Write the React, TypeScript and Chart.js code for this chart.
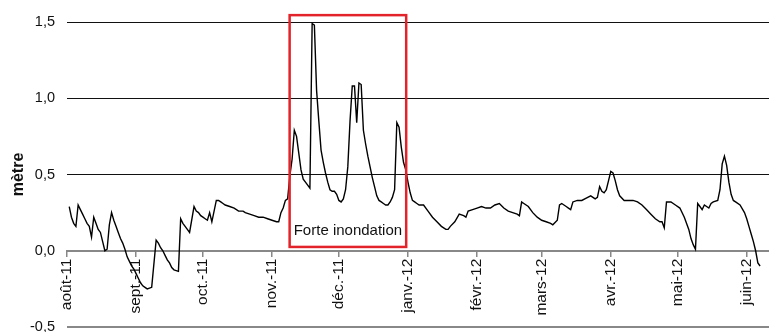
import React, { useEffect, useRef } from "react";
import { Chart, registerables } from "chart.js";

Chart.register(...registerables);

// Day offsets from 1 Aug 2011
const days: number[] = [
  1, 2, 3, 4, 5, 6, 7, 8, 9, 10, 11, 12, 13, 14, 15, 16, 17, 18, 19, 20,
  21, 22, 23, 24, 25, 26, 27, 28, 29, 30, 31, 32, 33, 34, 35, 36, 37, 38, 40,
  41, 42, 43, 44, 45, 46, 47, 48, 49, 50, 51, 52, 53, 54, 55, 57, 58, 59, 60,
  61, 62, 63, 64, 65, 67, 68, 69, 70, 71, 73, 75, 77, 79, 80, 82, 84, 86, 88,
  90, 92, 94, 95, 96, 97, 98, 99, 100, 101, 102, 103, 104, 105, 106, 107, 108,
  109, 110, 111, 112, 113, 114, 115, 116, 117, 118, 119, 120, 121, 122, 123,
  124, 125, 126, 127, 128, 129, 130, 131, 132, 133, 134, 135, 136, 137, 138,
  139, 140, 141, 142, 143, 144, 145, 146, 147, 148, 149, 150, 151, 152, 153,
  154, 155, 156, 157, 158, 160, 162, 164, 166, 168, 170, 171, 172, 174, 176,
  178, 179, 180, 182, 184, 186, 188, 190, 192, 194, 196, 198, 200, 202, 203,
  204, 205, 207, 209, 211, 213, 215, 217, 218, 220, 221, 222, 223, 224, 225,
  226, 227, 229, 231, 233, 235, 237, 238, 239, 240, 241, 242, 243, 244, 245,
  246, 247, 248, 250, 252, 254, 256, 258, 260, 262, 264, 266, 267, 268, 269,
  271, 273, 275, 277, 279, 280, 281, 282, 283, 284, 285, 286, 288, 289, 290,
  292, 293, 294, 295, 296, 297, 298, 299, 300, 302, 304, 305, 306, 307, 308,
  309, 310, 311,
];

const levels: number[] = [
  0.29, 0.22, 0.18, 0.16, 0.3, 0.27, 0.24, 0.21, 0.18, 0.16, 0.09, 0.22, 0.18,
  0.14, 0.12, 0.06, 0.0, 0.01, 0.17, 0.25,
  0.2, 0.16, 0.12, 0.08, 0.05, 0.01, -0.04, -0.07, -0.1, -0.12, -0.15, -0.18,
  -0.21, -0.23, -0.24, -0.25, -0.245, -0.24, 0.07,
  0.05, 0.02, 0.0, -0.03, -0.06, -0.08, -0.11, -0.125, -0.13, -0.135, 0.21,
  0.18, 0.16, 0.14, 0.12, 0.29, 0.26, 0.25, 0.23,
  0.22, 0.21, 0.2, 0.25, 0.19, 0.33, 0.33, 0.32, 0.31, 0.3, 0.29, 0.28, 0.26,
  0.26, 0.25, 0.24, 0.23, 0.22, 0.22,
  0.21, 0.2, 0.19, 0.19, 0.25, 0.28, 0.33, 0.34, 0.49, 0.6, 0.79, 0.75, 0.64,
  0.53, 0.47, 0.45, 0.43,
  0.41, 1.49, 1.48, 1.05, 0.85, 0.66, 0.58, 0.51, 0.45, 0.4, 0.39, 0.39, 0.37,
  0.33, 0.32,
  0.34, 0.4, 0.55, 0.85, 1.08, 1.08, 0.84, 1.1, 1.09, 0.79, 0.7, 0.62, 0.55,
  0.48, 0.42,
  0.36, 0.33, 0.32, 0.31, 0.3, 0.3, 0.32, 0.35, 0.4, 0.84, 0.81, 0.68, 0.58,
  0.53, 0.45,
  0.38, 0.33, 0.32, 0.31, 0.3, 0.3, 0.26, 0.22, 0.19, 0.16, 0.14, 0.14, 0.16,
  0.19, 0.24,
  0.23, 0.22, 0.26, 0.27, 0.28, 0.29, 0.28, 0.28, 0.3, 0.31, 0.28, 0.26, 0.25,
  0.24, 0.23,
  0.32, 0.31, 0.29, 0.25, 0.22, 0.2, 0.19, 0.18, 0.17, 0.2, 0.3, 0.31, 0.3,
  0.29, 0.28,
  0.27, 0.32, 0.33, 0.33, 0.345, 0.36, 0.34, 0.35, 0.42, 0.39, 0.38, 0.4, 0.46,
  0.52, 0.51,
  0.46, 0.4, 0.36, 0.33, 0.33, 0.33, 0.32, 0.3, 0.27, 0.24, 0.21, 0.19, 0.19,
  0.15, 0.32,
  0.32, 0.3, 0.28, 0.22, 0.14, 0.08, 0.04, 0.01, 0.31, 0.29, 0.27, 0.3, 0.28,
  0.31, 0.32,
  0.33, 0.4, 0.57, 0.62, 0.56, 0.45, 0.37, 0.33, 0.32, 0.3, 0.25, 0.21, 0.16,
  0.11, 0.06,
  0.0, -0.08, -0.1,
];

// Month starts (day offsets from 1 Aug 2011) and their labels
const monthStarts: number[] = [0, 31, 61, 92, 122, 153, 184, 213, 244, 274, 305];
const monthLabels: string[] = [
  "août-11", "sept.-11", "oct.-11", "nov.-11", "déc.-11", "janv.-12",
  "févr.-12", "mars-12", "avr.-12", "mai-12", "juin-12",
];

const yTicks: number[] = [-0.5, 0, 0.5, 1.0, 1.5];

// Highlight box (data units) and its caption
const floodBox = { x0: 99.9, x1: 152.2, y0: 0.025, y1: 1.545 };
const floodLabel = "Forte inondation";
const floodLabelY = 0.13;

const FONT = "'Liberation Sans', Arial, sans-serif";

const floodPlugin = {
  id: "floodBox",
  afterDatasetsDraw(chart: any) {
    const { ctx, scales } = chart;
    const x = scales.x;
    const y = scales.y;
    const l = x.getPixelForValue(floodBox.x0);
    const r = x.getPixelForValue(floodBox.x1);
    const t = y.getPixelForValue(floodBox.y1);
    const b = y.getPixelForValue(floodBox.y0);
    ctx.save();
    ctx.strokeStyle = "#e3232a";
    ctx.lineWidth = 2.5;
    ctx.strokeRect(l, t, r - l, b - t);
    ctx.fillStyle = "#111";
    ctx.font = `15px ${FONT}`;
    ctx.textAlign = "center";
    ctx.textBaseline = "middle";
    ctx.fillText(floodLabel, (l + r) / 2, y.getPixelForValue(floodLabelY));
    ctx.restore();
  },
};

export default function App() {
  const ref = useRef<HTMLCanvasElement | null>(null);

  useEffect(() => {
    if (!ref.current) return;
    const chart = new Chart(ref.current, {
      type: "line",
      data: {
        datasets: [
          {
            data: days.map((d, i) => ({ x: d, y: levels[i] })),
            borderColor: "#000",
            borderWidth: 1.4,
            pointRadius: 0,
            tension: 0,
            fill: false,
          },
        ],
      },
      options: {
        animation: false,
        responsive: false,
        layout: { padding: { top: 22, bottom: 5, left: 0, right: 0 } },
        plugins: {
          legend: { display: false },
          tooltip: { enabled: false },
        },
        scales: {
          x: {
            type: "linear",
            position: { y: 0 } as any,
            min: 0,
            max: 315,
            afterBuildTicks: (scale: any) => {
              scale.ticks = monthStarts.map((v) => ({ value: v }));
            },
            afterFit: (scale: any) => {
              scale.paddingLeft = 0;
              scale.paddingRight = 0;
            },
            ticks: {
              autoSkip: false,
              minRotation: 90,
              maxRotation: 90,
              padding: 3,
              color: "#111",
              font: { family: FONT, size: 15.5 },
              callback: (value: any) => {
                const i = monthStarts.indexOf(Number(value));
                return i >= 0 ? monthLabels[i] : "";
              },
            },
            grid: {
              drawOnChartArea: false,
              drawTicks: true,
              tickLength: 5,
              color: "#888",
              lineWidth: 1.5,
            },
            border: { display: true, color: "#888", width: 2 },
          },
          y: {
            min: -0.5,
            max: 1.5,
            afterBuildTicks: (scale: any) => {
              scale.ticks = yTicks.map((v) => ({ value: v }));
            },
            afterFit: (scale: any) => {
              scale.width = 67;
              scale.paddingTop = 0;
              scale.paddingBottom = 0;
            },
            ticks: {
              padding: 12,
              color: "#111",
              font: { family: FONT, size: 14.5 },
              callback: (value: any) => Number(value).toFixed(1).replace(".", ","),
            },
            grid: {
              drawTicks: false,
              color: (c: any) => (c.tick && c.tick.value <= 0 ? "#888" : "#111"),
              lineWidth: (c: any) => (c.tick && c.tick.value <= 0 ? 2 : 1),
            },
            border: { display: false },
            title: {
              display: true,
              text: "mètre",
              color: "#111",
              font: { family: FONT, size: 16, weight: "bold" },
              padding: { top: 9, bottom: 0 },
            },
          },
        },
      },
      plugins: [floodPlugin],
    });
    return () => chart.destroy();
  }, []);

  return (
    <canvas
      ref={ref}
      width={769}
      height={332}
      style={{ position: "absolute", left: 0, top: 0, display: "block" }}
    />
  );
}
